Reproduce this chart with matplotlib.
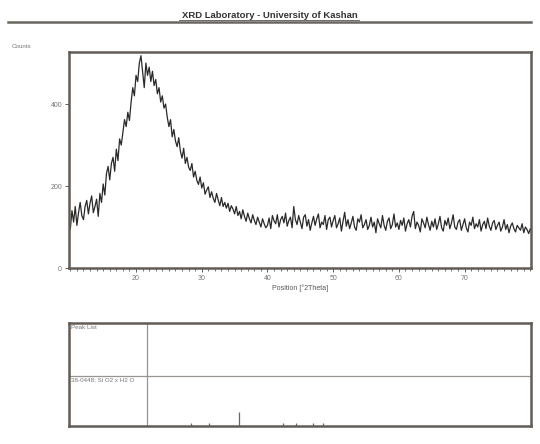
import numpy as np
import matplotlib
matplotlib.use('Agg')
import matplotlib.pyplot as plt
from matplotlib.lines import Line2D
from matplotlib.ticker import MultipleLocator

plt.rcParams['font.family'] = ['Liberation Sans', 'DejaVu Sans']

# Barrido XRD: posiciones 2theta (paso 0.25) y cuentas
theta_start, theta_step = 10.0, 0.25
counts = [
    95, 140, 112, 150, 104, 135, 160, 128, 118, 150, 165, 132, 158, 176, 135, 150, 168, 126, 182, 160,
    205, 178, 230, 248, 215, 255, 270, 236, 290, 262, 315, 300, 330, 362, 345, 380, 360, 405, 440, 420,
    470, 455, 500, 518, 480, 440, 500, 470, 490, 455, 480, 445, 460, 425, 440, 405, 420, 390, 400, 368,
    345, 362, 320, 338, 310, 296, 318, 285, 268, 292, 255, 270, 246, 238, 255, 222, 236, 214, 204, 222,
    195, 208, 180, 190, 198, 172, 186, 170, 160, 182, 166, 152, 172, 150, 160, 146, 158, 138, 152, 144,
    132, 150, 128, 138, 120, 142, 126, 114, 134, 120, 110, 130, 116, 106, 124, 112, 100, 120, 108, 98,
    104, 122, 96, 128, 115, 108, 130, 100, 118, 126, 110, 134, 102, 116, 124, 98, 150, 118, 106, 128,
    112, 96, 124, 130, 102, 118, 92, 110, 126, 104, 120, 132, 98, 112, 106, 128, 94, 118, 124, 100,
    116, 128, 98, 108, 122, 90, 114, 136, 102, 118, 96, 110, 126, 100, 92, 120, 112, 130, 98, 106,
    118, 94, 104, 124, 100, 112, 86, 120, 108, 98, 128, 104, 92, 114, 122, 96, 106, 132, 100, 110,
    94, 116, 104, 122, 90, 108, 118, 100, 126, 138, 96, 112, 104, 88, 120, 110, 98, 124, 106, 92,
    114, 100, 120, 94, 108, 126, 98, 90, 116, 104, 122, 96, 110, 130, 100, 94, 112, 118, 92, 106,
    120, 98, 88, 112, 104, 124, 96, 108, 100, 118, 90, 106, 114, 96, 122, 102, 92, 110, 116, 94,
    104, 112, 90, 100, 118, 94, 106, 86, 102, 110, 96, 88, 104, 98, 92, 108, 86, 100, 94, 84,
    96, 88,
]
two_theta = theta_start + theta_step * np.arange(len(counts))

# Lista de picos y patrón de referencia
peak_list = [21.67]
ref_pos = [28.36, 31.15, 35.71, 42.32, 44.34, 46.88, 48.40]
ref_int = [20, 20, 100, 20, 20, 20, 20]

xlim = (9.8, 80.1)
frame = '#625c57'
txt = '#777777'

fig = plt.figure(figsize=(5.4, 4.44), dpi=100)

# Encabezado
fig.text(0.5, 1 - 15.5 / 444, 'XRD Laboratory - University of Kashan', ha='center',
         va='center', fontsize=6.8, fontweight='bold', color='#333333')
fig.add_artist(Line2D([179 / 540, 359 / 540], [1 - 20 / 444] * 2, color='#555555', lw=0.6))
fig.add_artist(Line2D([8 / 540, 531 / 540], [1 - 22.5 / 444] * 2, color='#6b6560', lw=1.8))
fig.text(12 / 540, 1 - 47 / 444, 'Counts', fontsize=4.5, color=txt, va='center')

# Difractograma
ax = fig.add_axes([69 / 540, 1 - 268 / 444, 462 / 540, 216 / 444])
ax.plot(two_theta, counts, color='#2a2a2a', lw=0.9)
ax.set_xlim(*xlim)
ax.set_ylim(0, 527)
ax.set_yticks([0, 200, 400])
ax.set_xticks([20, 30, 40, 50, 60, 70])
ax.xaxis.set_minor_locator(MultipleLocator(1))
ax.tick_params(axis='both', which='major', labelsize=5, labelcolor=txt, color=frame,
               direction='out', length=3, width=0.7, pad=2)
ax.tick_params(axis='x', which='minor', color=frame, direction='out', length=2, width=0.6)
ax.set_xlabel('Position [°2Theta]', fontsize=5, color='#555555', labelpad=2)
for s in ax.spines.values():
    s.set_color(frame)
    s.set_linewidth(1.8)

# Lista de picos / patrón de referencia
bx = fig.add_axes([69 / 540, 18 / 444, 462 / 540, 103 / 444])
bx.set_xlim(*xlim)
bx.set_ylim(0, 1)
bx.set_xticks([])
bx.set_yticks([])
for s in bx.spines.values():
    s.set_color(frame)
    s.set_linewidth(1.8)
bx.axhline(0.485, color='#9a9490', lw=0.9)
for p in peak_list:
    bx.axvline(p, color='#9a9490', lw=0.9)
bx.vlines(ref_pos, 0, [i / 100 * 0.14 for i in ref_int], color='#6b6560', lw=0.9)
bx.text(0.004, 0.985, 'Peak List', transform=bx.transAxes, fontsize=4.5, color=txt,
        va='top', ha='left')
bx.text(0.004, 0.47, '38-0448; Si O2 x H2 O', transform=bx.transAxes, fontsize=4.5,
        color=txt, va='top', ha='left')

fig.savefig('out.png', dpi=100, facecolor='white')
